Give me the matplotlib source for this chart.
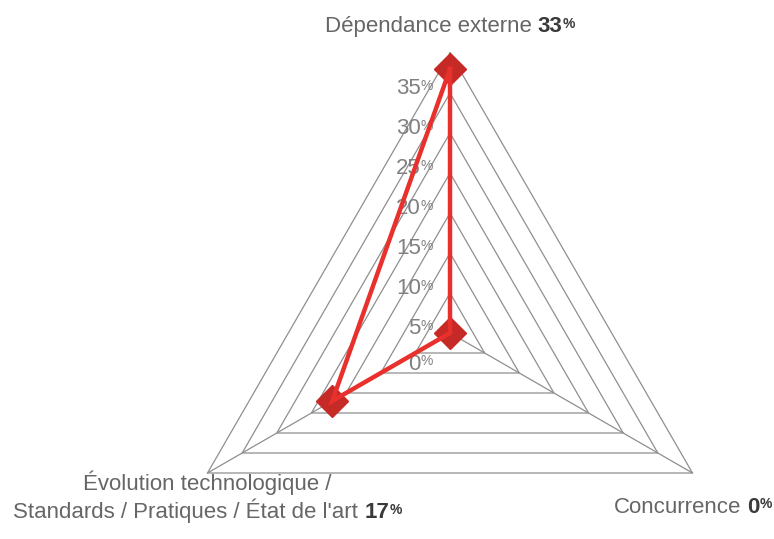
"""Radar chart: three risk factors on a triangular grid."""

import matplotlib
matplotlib.use("Agg")
import matplotlib.pyplot as plt
import matplotlib.transforms as mtransforms
import numpy as np

plt.rcParams["font.family"] = ["Liberation Sans", "DejaVu Sans"]

# data
categories = [
    ["Dépendance externe"],
    ["Concurrence"],
    ["Évolution technologique /", "Standards / Pratiques / État de l'art"],
]
values = [33, 0, 17]
angles_deg = [90, -30, 210]
ticks = [0, 5, 10, 15, 20, 25, 30, 35]
r_max = 35

GRID = "#8f8f8f"
LINE = "#e8302c"
MARKER = "#c52a27"
TXT = "#666666"
BOLD = "#3a3a3a"
TICK = "#808080"

PX = 8.0  # pixels per percent
CX, CY = 450, 333  # chart centre in pixels (from top-left)
W, H = 774, 539

fig = plt.figure(figsize=(W / 100, H / 100), dpi=100)
ax = fig.add_axes([0, 0, 1, 1])
ax.set_xlim(-CX / PX, (W - CX) / PX)
ax.set_ylim(-(H - CY) / PX, CY / PX)
ax.axis("off")

theta = np.deg2rad(angles_deg)
ux, uy = np.cos(theta), np.sin(theta)

# triangular grid
for t in ticks[1:]:
    xs = np.append(t * ux, t * ux[0])
    ys = np.append(t * uy, t * uy[0])
    ax.plot(xs, ys, color=GRID, lw=0.9, zorder=1)
for i in range(len(theta)):
    ax.plot([0, r_max * ux[i]], [0, r_max * uy[i]], color=GRID, lw=0.9, zorder=1)

# data series
v = np.array(values, dtype=float)
px_ = np.append(v * ux, v[0] * ux[0])
py_ = np.append(v * uy, v[0] * uy[0])
ax.plot(v * ux, v * uy, "D", ms=16, color=MARKER, zorder=3)
ax.plot(px_, py_, color=LINE, lw=3.2, zorder=4, solid_joinstyle="miter")

renderer = fig.canvas.get_renderer()
ident = mtransforms.IdentityTransform()


def put_line(anchor, dx, dy, parts, ha="center"):
    """Draw a line made of several styled pieces, positioned in pixels around anchor."""
    x0, y0 = ax.transData.transform(anchor)
    arts, widths = [], []
    for text, size, weight, color, rise, gap in parts:
        t = ax.text(0, 0, text, fontsize=size, fontweight=weight, color=color,
                    transform=ident, ha="left", va="baseline")
        arts.append(t)
        widths.append(t.get_window_extent(renderer).width + gap)
    total = sum(widths)
    x = x0 + dx - (total / 2 if ha == "center" else total)
    for t, w, p in zip(arts, widths, parts):
        t.set_position((x, y0 + dy + p[4]))
        x += w


# radial tick labels
for t in ticks:
    dy = -34 if t > 0 else -29
    put_line((0, t), -17, dy - 7.5,
             [(str(t), 16, "normal", TICK, 0, 0),
              ("%", 10, "normal", TICK, 4.5, 0)], ha="right")

# category labels
offsets = [(0, 21), (0, -40), (0, -17)]
for i, lines in enumerate(categories):
    anchor = (r_max * ux[i], r_max * uy[i])
    dx, dy = offsets[i]
    pct = f"{values[i]}"
    for j, line in enumerate(lines):
        yy = dy - 28 * j
        if j == len(lines) - 1:
            parts = [(line, 16, "normal", TXT, 0, 6),
                     (pct, 16, "bold", BOLD, 0, 0),
                     ("%", 10, "bold", BOLD, 4.5, 0)]
        else:
            parts = [(line, 16, "normal", TXT, 0, 0)]
        put_line(anchor, dx, yy, parts)

fig.savefig("out.png", dpi=100)
plt.close(fig)
